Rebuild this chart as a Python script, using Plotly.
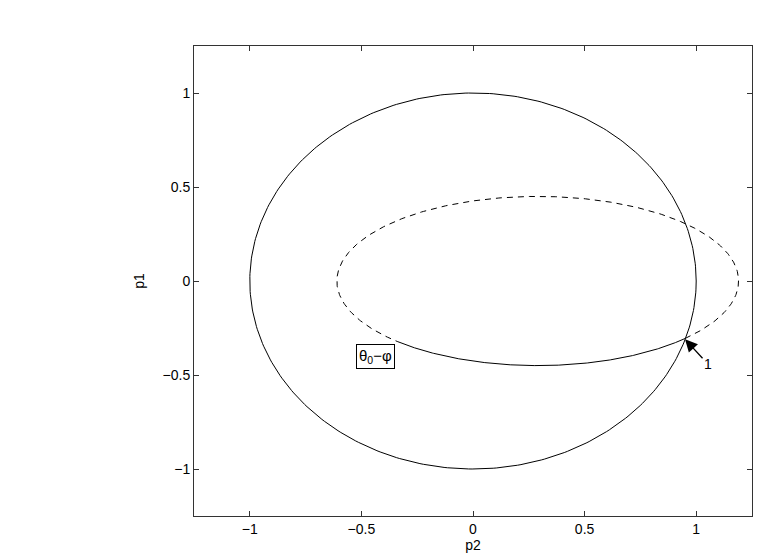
import numpy as np
import plotly.graph_objects as go

circle_center = (0.0, 0.0)
circle_radius = (1.0, 1.0)
ellipse_center = (0.29, 0.0)
ellipse_radius = (0.90, 0.45)
solid_arc_deg = (225.6, 317.2)   # part of ellipse drawn solid
intersect_pt = (0.95, -0.31)
label_pt = (-0.435, -0.40)
label_text = "θ<sub>0</sub>−φ"
arrow_text = "1"
ticks = [-1, -0.5, 0, 0.5, 1]
tick_text = ["−1", "−0.5", "0", "0.5", "1"]
x_range = [-1.25, 1.25]
y_range = [-1.25, 1.25]


def ell(c, r, t0, t1, n=400):
    t = np.radians(np.linspace(t0, t1, n))
    return c[0] + r[0] * np.cos(t), c[1] + r[1] * np.sin(t)


fig = go.Figure()
cx, cy = ell(circle_center, circle_radius, 0, 360)
fig.add_trace(go.Scatter(x=cx, y=cy, mode="lines", line=dict(color="black", width=1)))
ex, ey = ell(ellipse_center, ellipse_radius, solid_arc_deg[1], solid_arc_deg[0] + 360)
fig.add_trace(go.Scatter(x=ex, y=ey, mode="lines", line=dict(color="black", width=1, dash="6px,5px")))
sx, sy = ell(ellipse_center, ellipse_radius, solid_arc_deg[0], solid_arc_deg[1])
fig.add_trace(go.Scatter(x=sx, y=sy, mode="lines", line=dict(color="black", width=1)))

fig.add_annotation(x=label_pt[0], y=label_pt[1], text=label_text, showarrow=False,
                   bordercolor="black", borderwidth=1, bgcolor="white", borderpad=2,
                   font=dict(size=15, color="black"))
fig.add_annotation(x=intersect_pt[0], y=intersect_pt[1], text=arrow_text, showarrow=True,
                   ax=23, ay=25, arrowhead=2, arrowsize=1.9, arrowwidth=1.3, arrowcolor="black",
                   standoff=0, font=dict(size=14, color="black"))

axis_common = dict(showgrid=False, zeroline=False, showline=True, linecolor="#333", linewidth=1,
                   mirror="ticks", ticks="inside", ticklen=5, tickcolor="#333", automargin=False,
                   tickvals=ticks, ticktext=tick_text, tickfont=dict(size=14, color="black"))
fig.update_xaxes(range=x_range, title=dict(text="p2", font=dict(size=14, color="black"), standoff=3),
                 **axis_common)
fig.update_yaxes(range=y_range, title=dict(text="p1", font=dict(size=14, color="black"), standoff=14),
                 **axis_common)
fig.update_layout(width=761, height=554, margin=dict(l=194, r=9, t=46, b=38),
                  autosize=False,
                  plot_bgcolor="white", paper_bgcolor="white", showlegend=False,
                  font=dict(family="Liberation Sans, Arial, sans-serif"))
fig.write_html("out.html", config={"responsive": False, "displayModeBar": False},
               post_script="document.body.style.margin='0';document.body.style.padding='0';")
